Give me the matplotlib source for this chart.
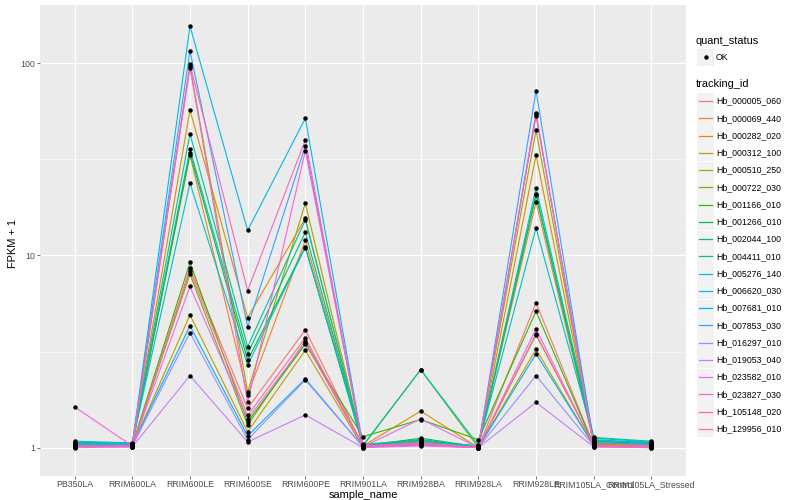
import matplotlib
matplotlib.use("Agg")
import matplotlib.pyplot as plt
from matplotlib.patches import Rectangle
from matplotlib.ticker import FixedLocator, NullFormatter

plt.rcParams["font.family"] = ["Liberation Sans", "DejaVu Sans"]

samples = ["PB350LA", "RRIM600LA", "RRIM600LE", "RRIM600SE", "RRIM600PE",
           "RRIM901LA", "RRIM928BA", "RRIM928LA", "RRIM928LE",
           "RRIM105LA_Control", "RRIM105LA_Stressed"]

tracking_ids = ["Hb_000005_060", "Hb_000069_440", "Hb_000282_020", "Hb_000312_100",
                "Hb_000510_250", "Hb_000722_030", "Hb_001166_010", "Hb_001266_010",
                "Hb_002044_100", "Hb_004411_010", "Hb_005276_140", "Hb_006620_030",
                "Hb_007681_010", "Hb_007853_030", "Hb_016297_010", "Hb_019053_040",
                "Hb_023582_010", "Hb_023827_030", "Hb_105148_020", "Hb_129956_010"]

# FPKM + 1 per tracking_id, one value per sample
fpkm = {
    "Hb_000005_060": [1.02, 1.01, 8.6, 1.60, 4.10, 1.02, 1.10, 1.00, 5.68, 1.03, 1.02],
    "Hb_000069_440": [1.03, 1.03, 33.2, 1.88, 12.0, 1.03, 1.08, 1.01, 19.0, 1.06, 1.04],
    "Hb_000282_020": [1.04, 1.04, 57.0, 4.75, 15.6, 1.02, 1.55, 1.00, 33.3, 1.07, 1.05],
    "Hb_000312_100": [1.01, 1.02, 4.9, 1.21, 3.21, 1.00, 1.05, 1.00, 3.25, 1.02, 1.01],
    "Hb_000510_250": [1.03, 1.04, 97.0, 1.95, 18.7, 1.03, 1.06, 1.02, 44.8, 1.05, 1.03],
    "Hb_000722_030": [1.02, 1.02, 8.0, 1.31, 3.60, 1.02, 2.54, 1.00, 3.86, 1.04, 1.02],
    "Hb_001166_010": [1.01, 1.03, 9.2, 1.36, 3.45, 1.14, 1.40, 1.10, 5.12, 1.03, 1.02],
    "Hb_001266_010": [1.05, 1.04, 34.0, 2.85, 11.1, 1.02, 1.12, 1.01, 20.6, 1.08, 1.05],
    "Hb_002044_100": [1.06, 1.05, 35.7, 3.08, 13.2, 1.03, 1.09, 1.02, 20.9, 1.10, 1.06],
    "Hb_004411_010": [1.07, 1.05, 43.0, 3.35, 15.3, 1.04, 1.10, 1.01, 22.5, 1.13, 1.08],
    "Hb_005276_140": [1.08, 1.06, 23.8, 2.69, 11.0, 1.03, 2.55, 1.03, 13.9, 1.12, 1.07],
    "Hb_006620_030": [1.05, 1.04, 156.0, 13.5, 51.7, 1.02, 1.07, 1.02, 53.4, 1.09, 1.06],
    "Hb_007681_010": [1.02, 1.03, 4.3, 1.15, 2.28, 1.01, 1.04, 1.00, 3.08, 1.03, 1.02],
    "Hb_007853_030": [1.03, 1.04, 116.0, 4.26, 37.2, 1.02, 1.05, 1.01, 72.0, 1.06, 1.04],
    "Hb_016297_010": [1.01, 1.02, 3.97, 1.10, 2.25, 1.01, 1.03, 1.00, 2.37, 1.02, 1.01],
    "Hb_019053_040": [1.00, 1.01, 2.37, 1.07, 1.48, 1.00, 1.02, 1.00, 1.72, 1.01, 1.00],
    "Hb_023582_010": [1.01, 1.01, 6.9, 1.41, 3.52, 1.01, 1.41, 1.00, 4.16, 1.02, 1.01],
    "Hb_023827_030": [1.63, 1.02, 95.0, 1.72, 35.1, 1.01, 1.03, 1.00, 54.3, 1.02, 1.01],
    "Hb_105148_020": [1.01, 1.02, 99.0, 6.56, 39.9, 1.01, 1.04, 1.00, 55.3, 1.01, 1.00],
    "Hb_129956_010": [1.02, 1.02, 8.3, 1.47, 3.73, 1.02, 1.06, 1.00, 3.91, 1.03, 1.02],
}

# ggplot2 default hue palette for 20 levels
colors = ["#F8766D", "#EA8331", "#D89000", "#C09B00", "#A3A500", "#7CAE00",
          "#39B600", "#00BB4E", "#00BF7D", "#00C1A3", "#00BFC4", "#00BAE0",
          "#00B0F6", "#35A2FF", "#9590FF", "#C77CFF", "#E76BF3", "#FA62DB",
          "#FF62BC", "#FF6C91"]

W, H = 800, 500
fig = plt.figure(figsize=(W / 100, H / 100), dpi=100)
x0, x1, y0, y1 = 40, 686, 5, 476
ax = fig.add_axes([x0 / W, 1 - y1 / H, (x1 - x0) / W, (y1 - y0) / H])
ax.set_facecolor("#EBEBEB")
for s in ax.spines.values():
    s.set_visible(False)

xs = list(range(1, len(samples) + 1))
for tid, col in zip(tracking_ids, colors):
    ax.plot(xs, fpkm[tid], color=col, lw=0.8, zorder=2)
for tid in tracking_ids:
    ax.plot(xs, fpkm[tid], ls="none", marker="o", ms=2.2, color="black", zorder=3)

ax.set_yscale("log")
ax.set_ylim(0.712, 201)
ax.set_xlim(0.4, len(samples) + 0.6)
ax.set_yticks([1, 10, 100])
ax.set_yticklabels(["1", "10", "100"])
ax.yaxis.set_minor_locator(FixedLocator([10 ** 0.5, 10 ** 1.5]))
ax.yaxis.set_minor_formatter(NullFormatter())
ax.set_xticks(xs)
ax.set_xticklabels(samples)
ax.grid(True, which="major", color="white", lw=0.85)
ax.grid(True, which="minor", axis="y", color="white", lw=0.4)
ax.set_axisbelow(True)
ax.tick_params(which="major", length=2.0, width=0.5, color="#333333",
               labelsize=6.3, labelcolor="#4D4D4D", pad=1.6)
ax.tick_params(axis="x", pad=1.2)
ax.tick_params(which="minor", length=0)

fig.text(363 / W, 1 - 497.5 / H, "sample_name", ha="center", va="baseline", fontsize=7.9)
fig.text(13 / W, 1 - 243 / H, "FPKM + 1", ha="center", va="center",
         rotation=90, fontsize=7.9)

# legend drawn in pixel coordinates
lax = fig.add_axes([0, 0, 1, 1], facecolor="none")
lax.set_xlim(0, W)
lax.set_ylim(H, 0)
lax.axis("off")

lax.text(696, 41, "quant_status", ha="left", va="center", fontsize=7.9)
lax.add_patch(Rectangle((697, 48.5), 17, 17, facecolor="#F2F2F2", edgecolor="none"))
lax.plot([705.5], [57], marker="o", ms=2.2, color="black")
lax.text(716, 57, "OK", ha="left", va="center", fontsize=6.3)

lax.text(696, 84, "tracking_id", ha="left", va="center", fontsize=7.9)
for i, (tid, col) in enumerate(zip(tracking_ids, colors)):
    yc = 101 + i * 17.25
    lax.add_patch(Rectangle((697, yc - 8.5), 17, 17, facecolor="#F2F2F2", edgecolor="none"))
    lax.plot([699, 712], [yc, yc], color=col, lw=0.9)
    lax.text(716, yc, tid, ha="left", va="center", fontsize=6.3)

fig.savefig("out.png", dpi=100)
